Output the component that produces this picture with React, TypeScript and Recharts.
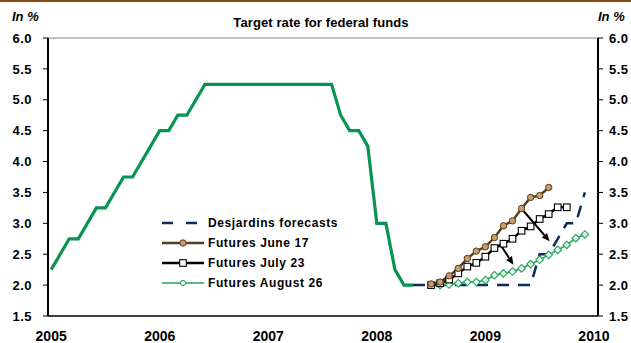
import React from "react";
import {
  LineChart, Line, XAxis, YAxis, ReferenceLine,
} from "recharts";

// x values are months counted from January 2005
const yearTicks = [2005, 2006, 2007, 2008, 2009, 2010];
const rateTicks = [1.5, 2.0, 2.5, 3.0, 3.5, 4.0, 4.5, 5.0, 5.5, 6.0];

const targetStart = 0;
const targetRate = [
  2.25, 2.5, 2.75, 2.75, 3.0, 3.25, 3.25, 3.5, 3.75, 3.75, 4.0, 4.25,
  4.5, 4.5, 4.75, 4.75, 5.0, 5.25, 5.25, 5.25, 5.25, 5.25, 5.25, 5.25,
  5.25, 5.25, 5.25, 5.25, 5.25, 5.25, 5.25, 5.25, 4.75, 4.5, 4.5, 4.25,
  3.0, 3.0, 2.25, 2.0, 2.0,
];

const desjardinsStart = 40;
const desjardins = [
  2.0, 2.0, 2.0, 2.0, 2.0, 2.0, 2.0, 2.0, 2.0, 2.0, 2.0, 2.0, 2.0, 2.0,
  2.5, 2.5, 2.75, 3.0, 3.0, 3.5,
];

const juneStart = 42;
const futuresJune17 = [
  2.02, 2.05, 2.15, 2.27, 2.43, 2.55, 2.62, 2.77, 2.96, 3.04, 3.24, 3.42, 3.45, 3.58,
];

const julyStart = 42;
const futuresJuly23 = [
  2.0, 2.03, 2.09, 2.19, 2.3, 2.36, 2.46, 2.6, 2.67, 2.75, 2.88, 2.95, 3.07, 3.15, 3.26, 3.26,
];

const augStart = 43;
const futuresAug26 = [
  2.0, 2.01, 2.03, 2.05, 2.05, 2.08, 2.16, 2.19, 2.22, 2.27, 2.34, 2.41, 2.49, 2.57, 2.65, 2.76, 2.82,
];

// arrows showing the shift between futures curves: [fromMonth, fromRate, toMonth, toRate]
const shiftArrows = [
  [52.1, 3.22, 55.1, 2.71],
  [49.6, 2.67, 51.1, 2.33],
];

const toPoints = (start: number, vals: number[]) => vals.map((v, i) => ({ m: start + i, v }));

const FONT = "'Liberation Sans', Arial, sans-serif";
const GREEN = "#079450";
const AUG_GREEN = "#1fa35a";
const BROWN = "#5a3a1c";
const NAVY = "#0e2b58";

const CircleDot = (p: any) => (
  <circle key={p.index} cx={p.cx} cy={p.cy} r={3.2} fill="#c79d6e" stroke={BROWN} strokeWidth={1} />
);
const SquareDot = (p: any) => (
  <rect key={p.index} x={p.cx - 3.3} y={p.cy - 3.3} width={6.6} height={6.6} fill="#fff" stroke="#000" strokeWidth={1.1} />
);
const DiamondDot = (p: any) => (
  <polygon
    key={p.index}
    points={`${p.cx},${p.cy - 3.8} ${p.cx + 3.8},${p.cy} ${p.cx},${p.cy + 3.8} ${p.cx - 3.8},${p.cy}`}
    fill="#e3f6e6" stroke={AUG_GREEN} strokeWidth={1.1}
  />
);

const Arrow = (p: any) => {
  const { x1, y1, x2, y2 } = p;
  const a = Math.atan2(y2 - y1, x2 - x1);
  const len = 8, w = 3.5;
  const bx = x2 - len * Math.cos(a), by = y2 - len * Math.sin(a);
  const nx = -Math.sin(a) * w, ny = Math.cos(a) * w;
  return (
    <g>
      <line x1={x1} y1={y1} x2={bx} y2={by} stroke="#000" strokeWidth={2} />
      <polygon points={`${x2},${y2} ${bx + nx},${by + ny} ${bx - nx},${by - ny}`} fill="#000" />
    </g>
  );
};

const legendItems = [
  { label: "Desjardins forecasts", kind: "dash" },
  { label: "Futures June 17", kind: "june" },
  { label: "Futures July 23", kind: "july" },
  { label: "Futures August 26", kind: "aug" },
];

function LegendSample({ kind }: { kind: string }) {
  return (
    <svg width={42} height={12} style={{ display: "block" }}>
      {kind === "dash" && <line x1={0} y1={6} x2={40} y2={6} stroke={NAVY} strokeWidth={2.5} strokeDasharray="11 13" />}
      {kind === "june" && <>
        <line x1={0} y1={6} x2={42} y2={6} stroke={BROWN} strokeWidth={2.5} />
        <CircleDot cx={21} cy={6} />
      </>}
      {kind === "july" && <>
        <line x1={0} y1={6} x2={42} y2={6} stroke="#000" strokeWidth={2.5} />
        <SquareDot cx={21} cy={6} />
      </>}
      {kind === "aug" && <>
        <line x1={0} y1={6} x2={42} y2={6} stroke={AUG_GREEN} strokeWidth={1.6} />
        <circle cx={21} cy={6} r={2.6} fill="#e3f6e6" stroke={AUG_GREEN} strokeWidth={1} />
      </>}
    </svg>
  );
}

export default function App() {
  const tickStyle = { fontSize: 13, fontWeight: "bold", fill: "#000", fontFamily: FONT, letterSpacing: 0.5 };
  return (
    <div style={{ position: "absolute", left: 0, top: 0, width: 631, height: 343, background: "#fff", fontFamily: FONT }}>
      <div style={{ position: "absolute", left: 0, top: 0, width: 631, height: 2, background: "#8a4a14" }} />
      <div style={{ position: "absolute", left: 0, width: 631, top: 15, textAlign: "center", paddingLeft: 11, boxSizing: "border-box", fontSize: 13, fontWeight: "bold", letterSpacing: 0.1 }}>
        Target rate for federal funds
      </div>
      <div style={{ position: "absolute", left: 12, top: 9, fontSize: 13, fontWeight: "bold", fontStyle: "italic" }}>In %</div>
      <div style={{ position: "absolute", left: 598, top: 9, fontSize: 13, fontWeight: "bold", fontStyle: "italic" }}>In %</div>

      <LineChart width={631} height={343} margin={{ top: 38, right: 0, left: 0, bottom: 0 }}>
        <XAxis
          type="number" dataKey="m" domain={[-0.35, 60.45]} allowDataOverflow
          ticks={yearTicks.map((y) => (y - 2005) * 12)}
          tickFormatter={(v: number) => String(2005 + v / 12)}
          height={27} tickSize={0} tickMargin={15}
          axisLine={{ stroke: "#000", strokeWidth: 1.5 }}
          tick={{ ...tickStyle, fontSize: 14, letterSpacing: 0 }}
        />
        <YAxis
          yAxisId="left" domain={[1.5, 6]} ticks={rateTicks} width={48}
          tickFormatter={(v: number) => v.toFixed(1)}
          tickSize={5} tickMargin={11}
          axisLine={{ stroke: "#000", strokeWidth: 2 }}
          tickLine={{ stroke: "#000" }}
          tick={tickStyle}
        />
        <YAxis
          yAxisId="right" orientation="right" domain={[1.5, 6]} ticks={rateTicks} width={33}
          tickFormatter={(v: number) => v.toFixed(1)}
          tickSize={5} tickMargin={6}
          axisLine={{ stroke: "#000", strokeWidth: 2 }}
          tickLine={{ stroke: "#000" }}
          tick={tickStyle}
        />
        <ReferenceLine yAxisId="left" y={6} stroke="#8a8a8a" strokeWidth={1.2} />

        {/* invisible copy so the right axis is bound to data */}
        <Line yAxisId="right" data={toPoints(targetStart, targetRate)} dataKey="v" stroke="none" dot={false} activeDot={false} legendType="none" isAnimationActive={false} />

        <Line yAxisId="left" data={toPoints(targetStart, targetRate)} dataKey="v" stroke={GREEN} strokeWidth={3.2} dot={false} isAnimationActive={false} />
        <Line yAxisId="left" data={toPoints(desjardinsStart, desjardins)} dataKey="v" stroke={NAVY} strokeWidth={2.5} strokeDasharray="12 9" dot={false} isAnimationActive={false} />
        <Line yAxisId="left" data={toPoints(augStart, futuresAug26)} dataKey="v" stroke={AUG_GREEN} strokeWidth={1.6} dot={DiamondDot} isAnimationActive={false} />
        <Line yAxisId="left" data={toPoints(julyStart, futuresJuly23)} dataKey="v" stroke="#000" strokeWidth={2.4} dot={SquareDot} isAnimationActive={false} />
        <Line yAxisId="left" data={toPoints(juneStart, futuresJune17)} dataKey="v" stroke={BROWN} strokeWidth={2.4} dot={CircleDot} isAnimationActive={false} />

        {shiftArrows.map(([x1, y1, x2, y2], i) => (
          <ReferenceLine key={i} yAxisId="left" segment={[{ x: x1, y: y1 }, { x: x2, y: y2 }]} shape={Arrow} />
        ))}
      </LineChart>

      <div style={{ position: "absolute", left: 162, top: 213 }}>
        {legendItems.map((it) => (
          <div key={it.label} style={{ display: "flex", alignItems: "center", height: 20 }}>
            <LegendSample kind={it.kind} />
            <span style={{ marginLeft: 4, fontSize: 12, fontWeight: "bold", letterSpacing: 0.6, whiteSpace: "nowrap" }}>{it.label}</span>
          </div>
        ))}
      </div>
    </div>
  );
}
